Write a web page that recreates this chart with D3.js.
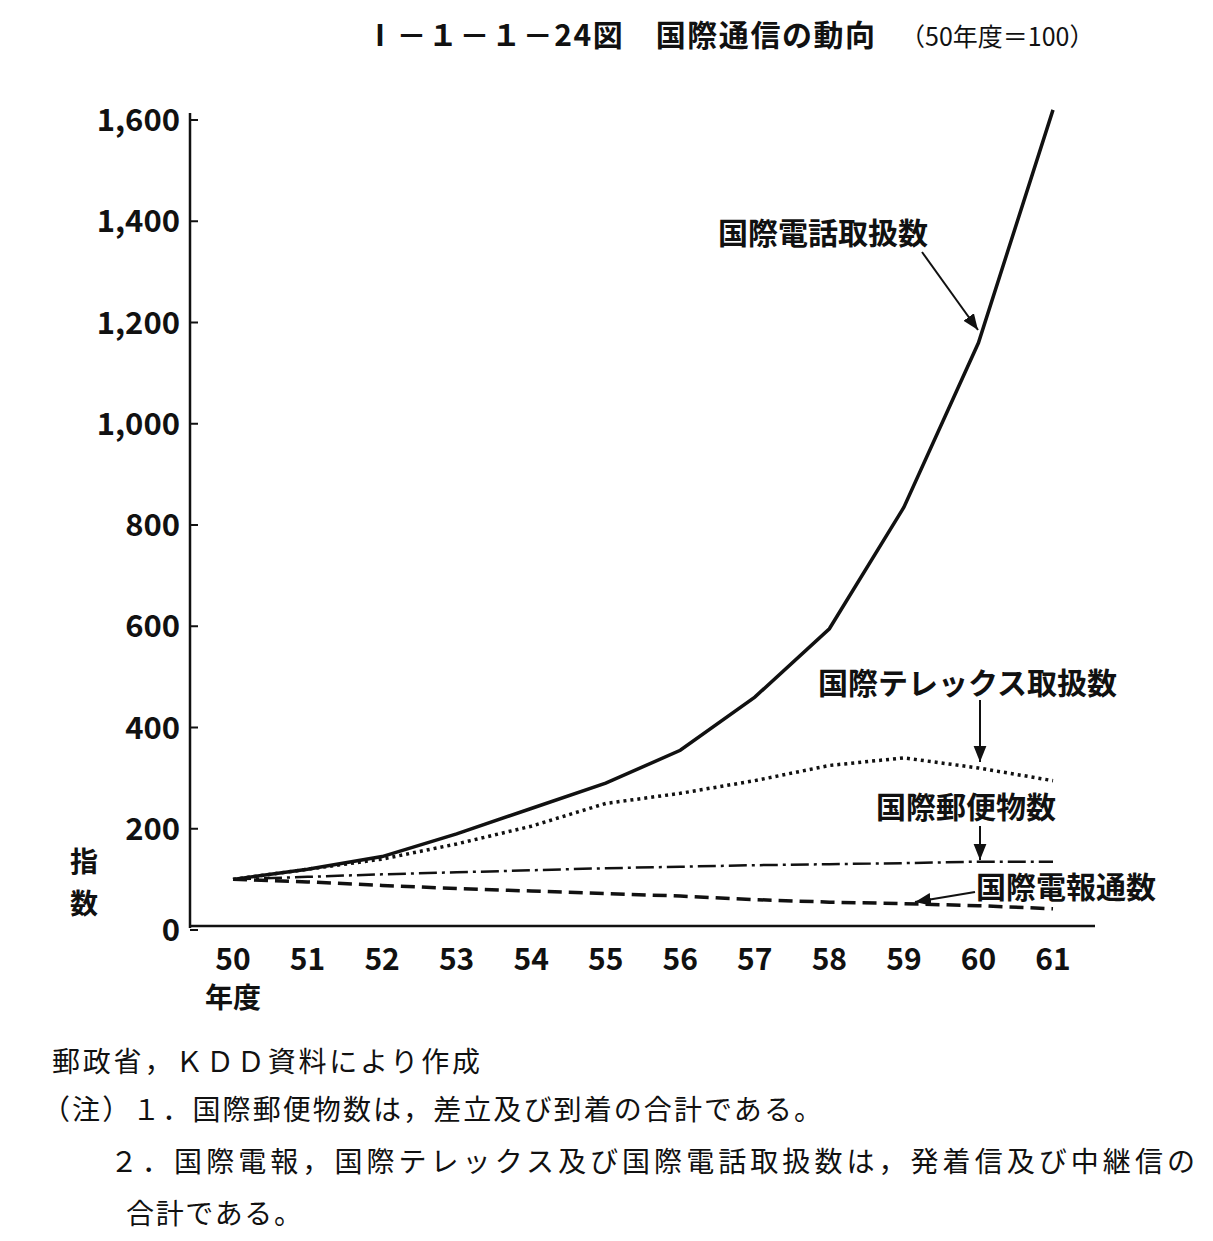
<!DOCTYPE html>
<html><head><meta charset="utf-8">
<script src="https://cdn.jsdelivr.net/npm/d3@7"></script>
<style>body{margin:0;background:#fff}text{font-family:"Noto Sans CJK JP",sans-serif;fill:#111}</style>
</head><body><svg id="c" width="1213" height="1241"></svg>
<script>
var years = [50,51,52,53,54,55,56,57,58,59,60,61];
var phone = [100,120,145,190,240,290,355,460,595,835,1160,1620];
var telex = [100,120,140,170,205,250,270,295,325,340,320,295];
var mail = [100,105,110,114,118,122,125,128,130,132,135,135];
var telegram = [100,95,88,82,77,72,67,60,55,52,48,42];
var yTicks = [0,200,400,600,800,1000,1200,1400,1600];

var svg = d3.select('#c');
var x = d3.scaleLinear().domain([50,61]).range([233,1053]);
var y = d3.scaleLinear().domain([0,1600]).range([930,120]);
var fmt = d3.format(',');

// axes
svg.append('line').attr('x1',190).attr('x2',190).attr('y1',113).attr('y2',928).attr('stroke','#111').attr('stroke-width',2.5);
svg.append('line').attr('x1',190).attr('x2',1095).attr('y1',926).attr('y2',926).attr('stroke','#111').attr('stroke-width',2.5);
yTicks.forEach(function(t){
  svg.append('line').attr('x1',190).attr('x2',198).attr('y1',y(t)).attr('y2',y(t)).attr('stroke','#111').attr('stroke-width',2);
  svg.append('text').attr('x',180).attr('y',y(t)+11).attr('text-anchor','end').attr('font-size',31).attr('font-weight','bold').attr('font-family','Liberation Sans Narrow, Liberation Sans').text(fmt(t));
});
years.forEach(function(v){
  svg.append('text').attr('x',x(v)).attr('y',970).attr('text-anchor','middle').attr('font-size',30).attr('font-weight','bold').attr('font-family','Liberation Sans Narrow, Liberation Sans').text(v);
});
svg.append('text').attr('x',233).attr('y',1008).attr('text-anchor','middle').attr('font-size',28).attr('font-weight','bold').text('年度');
svg.append('text').attr('x',84).attr('y',872).attr('text-anchor','middle').attr('font-size',28).attr('font-weight','bold').text('指');
svg.append('text').attr('x',84).attr('y',914).attr('text-anchor','middle').attr('font-size',28).attr('font-weight','bold').text('数');

function draw(data, dash, w){
  var line = d3.line().x(function(d,i){return x(years[i]);}).y(function(d){return y(d);});
  svg.append('path').attr('d',line(data)).attr('fill','none').attr('stroke','#111').attr('stroke-width',w).attr('stroke-dasharray',dash);
}
draw(phone,null,3.5);
draw(telex,'3,4',3.5);
draw(mail,'18,5,3,5',2.5);
draw(telegram,'14,7',3.5);

// title
svg.append('text').attr('x',365).attr('y',46).attr('font-size',30).attr('font-weight','bold').attr('textLength',510).text('Ⅰ－１－１－24図　国際通信の動向');
svg.append('text').attr('x',900).attr('y',46).attr('font-size',25).text('（50年度＝100）');

// labels and arrows
svg.append('defs').append('marker').attr('id','a').attr('viewBox','0 0 10 10').attr('refX',10).attr('refY',5)
  .attr('markerWidth',8).attr('markerHeight',8).attr('orient','auto').append('path').attr('d','M0,1L10,5L0,9Z').attr('fill','#111');
function lab(t,tx,ty,x1,y1,x2,y2){
  svg.append('text').attr('x',tx).attr('y',ty).attr('font-size',30).attr('font-weight','bold').text(t);
  svg.append('line').attr('x1',x1).attr('y1',y1).attr('x2',x2).attr('y2',y2).attr('stroke','#111').attr('stroke-width',2).attr('marker-end','url(#a)');
}
lab('国際電話取扱数',718,244,922,252,978,330);
lab('国際テレックス取扱数',818,694,980,700,980,762);
lab('国際郵便物数',876,818,980,826,980,860);
lab('国際電報通数',976,898,975,892,915,902);

// notes
var notes = [['郵政省，ＫＤＤ資料により作成',52,1072,428],['（注）１．国際郵便物数は，差立及び到着の合計である。',42,1120,780],
 ['２．国際電報，国際テレックス及び国際電話取扱数は，発着信及び中継信の',110,1172,1085],['合計である。',126,1224,176]];
notes.forEach(function(n){svg.append('text').attr('x',n[1]).attr('y',n[2]).attr('font-size',28).attr('textLength',n[3]).text(n[0]);});
</script></body></html>
